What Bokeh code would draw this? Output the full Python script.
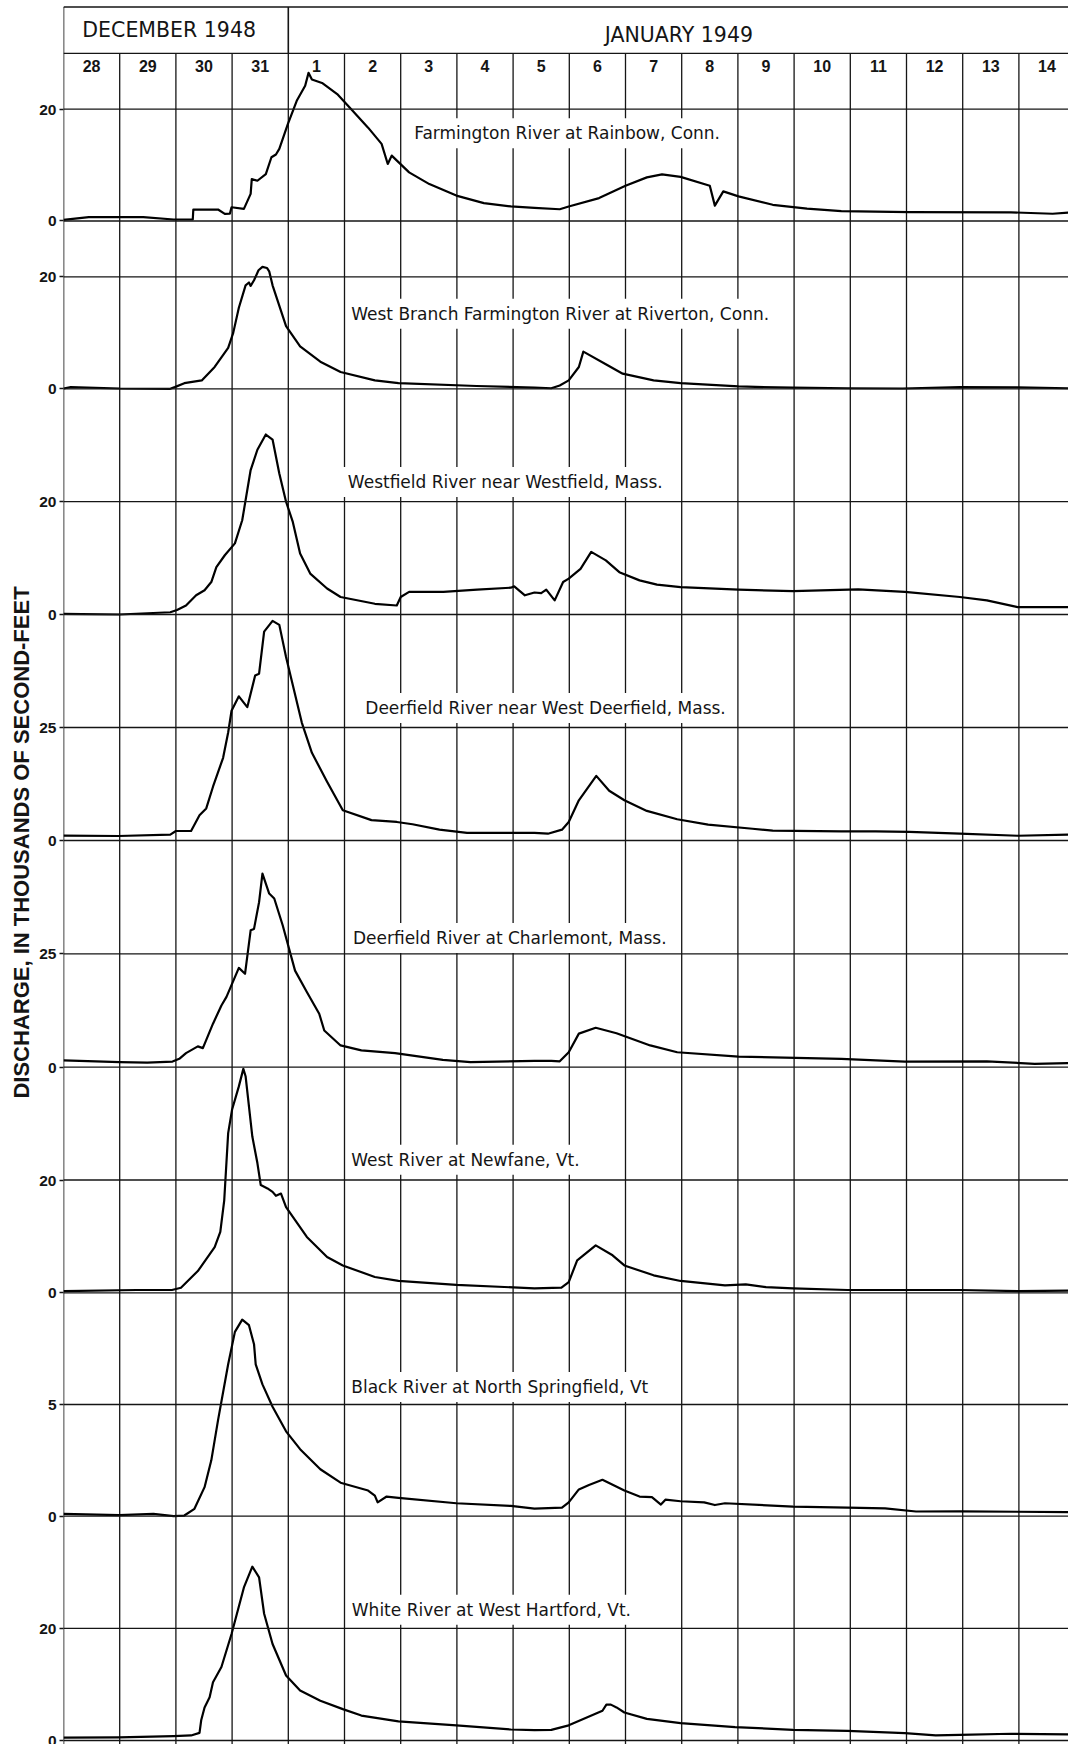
import math
from bokeh.plotting import figure
from bokeh.models import Range1d, FixedTicker, Span, Label
from bokeh.layouts import row
from bokeh.embed import file_html
from bokeh.resources import INLINE
from bokeh.core.properties import value

# ---------------- data (x = days since 28 Dec 1948 00h, y = thousands of cfs) -------------
day_labels = ["28", "29", "30", "31", "1", "2", "3", "4", "5", "6", "7",
              "8", "9", "10", "11", "12", "13", "14"]
months = ["DECEMBER 1948", "JANUARY 1949"]
y_title = "DISCHARGE, IN THOUSANDS OF SECOND-FEET"

stations = [
    "Farmington River at Rainbow, Conn.",
    "West Branch Farmington River at Riverton, Conn.",
    "Westfield River near Westfield, Mass.",
    "Deerfield River near West Deerfield, Mass.",
    "Deerfield River at Charlemont, Mass.",
    "West River at Newfane, Vt.",
    "Black River at North Springfield, Vt",
    "White River at West Hartford, Vt.",
]
y_tops = [30, 30, 40, 50, 50, 40, 10, 40]
y_mids = [20, 20, 20, 25, 25, 20, 5, 20]

farmington = [(0.00, 0.2), (0.45, 0.7), (1.42, 0.7), (1.96, 0.27), (2.30, 0.27), (2.31, 2.05),
              (2.75, 2.05), (2.87, 1.28), (2.96, 1.3), (2.99, 2.46), (3.21, 2.17), (3.33, 4.85),
              (3.35, 7.5), (3.45, 7.2), (3.60, 8.4), (3.70, 11.4), (3.78, 11.9), (3.84, 12.9),
              (3.99, 17.3), (4.15, 21.5), (4.30, 24.2), (4.36, 26.5), (4.42, 25.3), (4.60, 24.7),
              (4.87, 22.7), (5.12, 20.0), (5.42, 16.7), (5.66, 13.8), (5.77, 10.2), (5.84, 11.7),
              (6.15, 8.7), (6.51, 6.6), (6.99, 4.55), (7.48, 3.2), (7.96, 2.6), (8.38, 2.35),
              (8.83, 2.1), (8.99, 2.6), (9.53, 4.1), (10.00, 6.3), (10.38, 7.8), (10.65, 8.35),
              (10.98, 7.9), (11.50, 6.3), (11.59, 2.75), (11.74, 5.3), (12.01, 4.4), (12.62, 2.9),
              (13.23, 2.2), (13.84, 1.75), (15.05, 1.6), (16.86, 1.55), (17.60, 1.3), (17.88, 1.5)]

west_branch = [(0.00, 0.05), (0.13, 0.3), (1.00, 0.05), (1.90, 0.0), (1.98, 0.3), (2.15, 1.0),
               (2.46, 1.5), (2.69, 3.9), (2.93, 7.3), (3.02, 10.0), (3.12, 14.5), (3.24, 18.5),
               (3.30, 19.0), (3.33, 18.4), (3.39, 19.4), (3.47, 21.2), (3.54, 21.8), (3.62, 21.6),
               (3.66, 21.0), (3.72, 18.5), (3.96, 11.2), (4.21, 7.6), (4.57, 4.85), (4.93, 3.0),
               (5.54, 1.5), (5.96, 1.0), (7.35, 0.5), (8.38, 0.2), (8.68, 0.1), (8.83, 0.6),
               (8.99, 1.5), (9.17, 3.9), (9.25, 6.65), (9.65, 4.4), (9.95, 2.7), (10.50, 1.5),
               (10.98, 1.0), (12.01, 0.42), (12.98, 0.2), (13.95, 0.1), (14.93, 0.05), (15.95, 0.3),
               (16.98, 0.25), (17.88, 0.1)]

westfield = [(0.00, 0.1), (0.99, 0.0), (1.90, 0.4), (2.02, 0.8), (2.18, 1.6), (2.36, 3.4),
             (2.51, 4.3), (2.63, 5.75), (2.72, 8.4), (2.87, 10.5), (3.05, 12.6), (3.18, 16.7),
             (3.33, 25.6), (3.45, 29.2), (3.60, 31.9), (3.72, 31.0), (3.84, 25.0), (3.96, 20.0),
             (4.08, 16.4), (4.21, 10.8), (4.39, 7.25), (4.69, 4.6), (4.93, 3.1), (5.54, 1.9),
             (5.93, 1.6), (6.00, 3.1), (6.15, 4.0), (6.76, 4.0), (7.36, 4.4), (7.96, 4.75),
             (8.02, 5.0), (8.21, 3.4), (8.38, 3.9), (8.50, 3.8), (8.59, 4.4), (8.74, 2.5),
             (8.89, 5.75), (8.99, 6.35), (9.20, 8.1), (9.39, 11.1), (9.65, 9.6), (9.89, 7.5),
             (10.25, 6.05), (10.56, 5.3), (10.98, 4.85), (12.01, 4.4), (12.98, 4.15), (14.14, 4.45),
             (14.97, 4.0), (15.95, 3.1), (16.43, 2.5), (16.98, 1.3), (17.88, 1.3)]

deerfield_wd = [(0.00, 1.1), (0.98, 1.0), (1.90, 1.3), (2.00, 2.1), (2.27, 2.1), (2.42, 5.6),
                (2.54, 7.1), (2.66, 11.9), (2.84, 18.3), (2.93, 23.9), (2.99, 28.7), (3.12, 31.9),
                (3.27, 29.5), (3.41, 36.5), (3.48, 36.9), (3.57, 46.2), (3.72, 48.6), (3.84, 47.7),
                (3.96, 40.6), (4.24, 26.1), (4.42, 19.4), (4.69, 13.0), (4.97, 6.7), (5.48, 4.5),
                (5.93, 4.1), (6.21, 3.6), (6.69, 2.4), (7.18, 1.7), (8.38, 1.7), (8.62, 1.5),
                (8.87, 2.4), (8.99, 4.1), (9.17, 8.9), (9.48, 14.3), (9.71, 11.0), (9.98, 8.9),
                (10.38, 6.55), (10.92, 4.7), (11.47, 3.5), (12.26, 2.6), (12.62, 2.2), (13.84, 2.0),
                (14.45, 2.0), (15.05, 1.9), (15.95, 1.5), (16.98, 1.05), (17.88, 1.3)]

charlemont = [(0.00, 1.5), (1.00, 1.1), (1.49, 1.0), (1.94, 1.25), (2.06, 1.85), (2.18, 3.1),
              (2.39, 4.6), (2.48, 4.2), (2.66, 9.6), (2.81, 13.6), (2.90, 15.5), (3.12, 21.9),
              (3.23, 20.6), (3.33, 30.2), (3.39, 30.5), (3.48, 36.4), (3.54, 42.7), (3.66, 38.3),
              (3.75, 37.2), (3.90, 31.3), (4.12, 21.3), (4.33, 16.6), (4.55, 11.8), (4.64, 8.1),
              (4.93, 4.8), (5.30, 3.7), (5.90, 3.1), (6.75, 1.6), (7.24, 1.1), (8.38, 1.4),
              (8.68, 1.4), (8.83, 1.3), (8.99, 3.3), (9.17, 7.4), (9.47, 8.7), (9.84, 7.5),
              (10.44, 4.8), (10.92, 3.3), (12.01, 2.35), (13.84, 1.85), (14.97, 1.25), (16.43, 1.3),
              (17.28, 0.75), (17.88, 0.9)]

newfane = [(0.00, 0.3), (1.30, 0.5), (1.93, 0.5), (2.09, 0.9), (2.39, 3.85), (2.69, 8.1),
           (2.79, 10.8), (2.86, 16.4), (2.93, 28.3), (3.00, 32.5), (3.12, 36.6), (3.20, 39.7),
           (3.24, 38.4), (3.36, 27.7), (3.45, 23.0), (3.51, 19.1), (3.63, 18.5), (3.72, 17.9),
           (3.78, 17.2), (3.87, 17.6), (3.96, 15.2), (4.33, 9.9), (4.69, 6.35), (4.97, 4.85),
           (5.54, 2.8), (5.96, 2.1), (6.99, 1.4), (8.38, 0.8), (8.86, 0.9), (8.99, 1.9),
           (9.14, 5.75), (9.47, 8.4), (9.77, 6.65), (9.98, 4.85), (10.50, 3.1), (10.98, 2.1),
           (11.77, 1.3), (12.14, 1.5), (12.50, 1.0), (12.98, 0.8), (13.95, 0.5), (15.05, 0.5),
           (15.95, 0.5), (16.98, 0.3), (17.88, 0.4)]

black = [(0.00, 0.1), (0.99, 0.05), (1.60, 0.1), (1.96, 0.0), (2.15, 0.03), (2.33, 0.33),
         (2.51, 1.3), (2.63, 2.5), (2.75, 4.3), (2.93, 6.8), (3.05, 8.25), (3.18, 8.8),
         (3.30, 8.55), (3.39, 7.7), (3.42, 6.8), (3.54, 5.9), (3.72, 4.9), (3.96, 3.8),
         (4.21, 3.0), (4.57, 2.1), (4.93, 1.5), (5.42, 1.15), (5.54, 0.92), (5.59, 0.62),
         (5.75, 0.88), (5.96, 0.82), (6.99, 0.58), (7.96, 0.46), (8.38, 0.34), (8.87, 0.38),
         (8.99, 0.62), (9.17, 1.2), (9.35, 1.4), (9.59, 1.63), (9.98, 1.15), (10.25, 0.88),
         (10.47, 0.85), (10.63, 0.52), (10.71, 0.74), (10.98, 0.67), (11.40, 0.62), (11.59, 0.5),
         (11.77, 0.58), (12.98, 0.43), (13.95, 0.38), (14.62, 0.35), (15.17, 0.21), (15.95, 0.22),
         (17.88, 0.18)]

white = [(0.00, 0.5), (0.99, 0.55), (1.96, 0.77), (2.27, 0.9), (2.42, 1.36), (2.45, 3.6),
         (2.51, 5.9), (2.60, 7.7), (2.66, 10.4), (2.81, 13.1), (2.99, 19.0), (3.21, 27.3),
         (3.36, 31.0), (3.48, 29.1), (3.57, 22.6), (3.72, 17.2), (3.96, 11.6), (4.21, 8.9),
         (4.57, 7.1), (4.97, 5.6), (5.30, 4.45), (5.96, 3.4), (6.99, 2.7), (7.96, 1.96),
         (8.38, 1.85), (8.68, 1.9), (8.99, 2.7), (9.29, 4.0), (9.59, 5.3), (9.66, 6.4),
         (9.74, 6.4), (9.84, 5.9), (9.98, 5.0), (10.38, 3.85), (10.98, 3.1), (11.95, 2.4),
         (12.98, 1.9), (13.95, 1.7), (14.97, 1.3), (15.52, 0.9), (15.95, 1.0), (16.86, 1.2),
         (17.88, 1.1)]

series = [farmington, west_branch, westfield, deerfield_wd, charlemont, newfane, black, white]

# ---------------- layout (page pixels; the page has no body margin) ----------------
PAGE_TOP, PAGE_BOTTOM = 0, 1744
HEADER_TOP = 6.5
HEADER_LINE = 52.8
ZEROS = [220.5, 388.3, 614.0, 840.0, 1066.7, 1292.3, 1515.7, 1740.0]
DAY_PX = 56.2
TOTAL_W = 1068
W_LABEL = 36
FRAME_LEFT = 63
LABEL_PAD = 5
LABEL_POS = [(6.24, 15.7), (5.12, 13.4), (5.06, 23.5), (5.37, 29.3),
             (5.15, 28.5), (5.12, 23.6), (5.12, 5.78), (5.13, 23.3)]
INK = "#151515"
GRID_W = 1.3

x_max = (TOTAL_W - FRAME_LEFT) / DAY_PX
H = PAGE_BOTTOM - PAGE_TOP

p = figure(width=TOTAL_W - W_LABEL, height=H,
           x_range=Range1d(0, x_max), y_range=Range1d(PAGE_BOTTOM, PAGE_TOP),
           x_axis_location=None, y_axis_location="left",
           output_backend="svg", toolbar_location=None,
           min_border_left=FRAME_LEFT - W_LABEL, min_border_right=0,
           min_border_top=0, min_border_bottom=0)
p.grid.visible = False
p.outline_line_color = None
p.background_fill_color = "white"
p.border_fill_color = "white"

ticks, overrides = [], {}
prev = HEADER_LINE
for k in range(len(series)):
    z = ZEROS[k]
    ppu = (z - prev) / y_tops[k]
    name = f"r{k}"
    p.extra_y_ranges[name] = Range1d(start=-(PAGE_BOTTOM - z) / ppu, end=(z - PAGE_TOP) / ppu)
    t0 = int(round(z))
    t1 = int(round(z - y_mids[k] * ppu))
    ticks += [t0, t1]
    overrides[t0] = "0"
    overrides[t1] = str(y_mids[k])
    for loc in (0, y_mids[k]):
        p.add_layout(Span(location=loc, dimension="width", y_range_name=name,
                          line_color=INK, line_width=GRID_W, level="overlay"))
    prev = z

# header horizontal lines
p.add_layout(Span(location=HEADER_TOP, dimension="width", line_color=INK,
                  line_width=GRID_W + 0.2, level="overlay"))
p.add_layout(Span(location=HEADER_LINE, dimension="width", line_color=INK,
                  line_width=GRID_W, level="overlay"))

# vertical day lines
n_days = len(day_labels)
edges = list(range(1, n_days + 1))
p.segment(x0=edges, y0=[HEADER_LINE] * len(edges), x1=edges, y1=[PAGE_BOTTOM] * len(edges),
          line_color=INK, line_width=GRID_W)
dec_days = day_labels.index("1")
p.segment(x0=[0, dec_days], y0=[HEADER_TOP] * 2, x1=[0, dec_days], y1=[PAGE_BOTTOM, HEADER_LINE],
          line_color=INK, line_width=1.6)

# month headers and day numbers
p.text(x=[dec_days / 2 - 0.12, dec_days + (n_days - dec_days) / 2 - 0.05], y=[29.7, 34.7],
       text=months, text_align="center", text_baseline="middle",
       text_font=value("DejaVu Sans"), text_font_size=value("20.5px"), text_color=INK)
p.text(x=[i + 0.5 for i in range(n_days)], y=[65.5] * n_days, text=day_labels,
       text_align="center", text_baseline="middle",
       text_font=value("Liberation Sans"), text_font_style="bold",
       text_font_size=value("16px"), text_color=INK)

# hydrographs
for k, data in enumerate(series):
    xs = [d[0] for d in data]
    ys = [d[1] for d in data]
    p.line(x=xs, y=ys, y_range_name=f"r{k}", line_color="black", line_width=2.2,
           line_join="round")

# station labels
for k, st in enumerate(stations):
    lx, ly = LABEL_POS[k]
    p.add_layout(Label(x=lx - LABEL_PAD / DAY_PX, y=ly, y_range_name=f"r{k}", text=st,
                       text_font="DejaVu Sans", text_font_size="17px", text_color=INK,
                       text_align="left", text_baseline="middle",
                       background_fill_color="white", padding=LABEL_PAD))

ax = p.yaxis[0]
ax.ticker = FixedTicker(ticks=ticks, minor_ticks=[])
ax.major_label_overrides = overrides
ax.axis_line_color = None
ax.major_tick_line_color = INK
ax.major_tick_line_width = 1.3
ax.major_tick_out = 4
ax.major_tick_in = 0
ax.minor_tick_line_color = None
ax.major_label_standoff = 3
ax.major_label_text_font = "Liberation Sans"
ax.major_label_text_font_style = "bold"
ax.major_label_text_font_size = "15.5px"
ax.major_label_text_color = INK

# vertical axis title
lab = figure(width=W_LABEL, height=H, x_range=Range1d(0, W_LABEL),
             y_range=Range1d(PAGE_BOTTOM, PAGE_TOP),
             x_axis_location=None, y_axis_location=None,
             output_backend="svg", toolbar_location=None,
             min_border_left=0, min_border_right=0, min_border_top=0, min_border_bottom=0)
lab.grid.visible = False
lab.outline_line_color = None
lab.text(x=[21], y=[842], text=[y_title], angle=math.pi / 2,
         text_align="center", text_baseline="middle",
         text_font=value("Liberation Sans"), text_font_style="bold",
         text_font_size=value("22px"), text_color=INK)

layout = row(lab, p)
open("out.html", "w").write(file_html(layout, INLINE))
